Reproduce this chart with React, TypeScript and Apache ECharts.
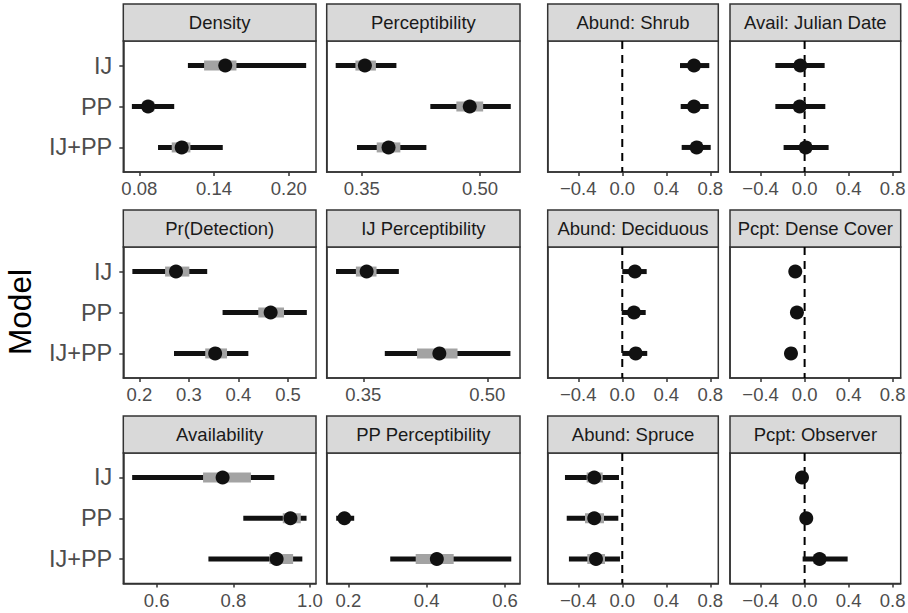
import React, { useEffect, useRef } from "react";
import * as echarts from "echarts";

// ---- data: each row is [lo95, lo50, median, hi50, hi95]; null = not estimated ----
const models = ["IJ", "PP", "IJ+PP"];

const density = [
  [0.119, 0.132, 0.149, 0.158, 0.214],
  [0.074, 0.083, 0.087, 0.092, 0.108],
  [0.095, 0.106, 0.114, 0.121, 0.147],
];
const perceptibility = [
  [0.317, 0.342, 0.354, 0.368, 0.394],
  [0.437, 0.47, 0.487, 0.504, 0.539],
  [0.344, 0.369, 0.384, 0.399, 0.432],
];
const abundShrub = [
  [0.525, 0.61, 0.652, 0.7, 0.791],
  [0.531, 0.61, 0.652, 0.7, 0.785],
  [0.54, 0.63, 0.676, 0.72, 0.804],
];
const availJulian = [
  [-0.266, -0.09, -0.039, 0.01, 0.182],
  [-0.266, -0.095, -0.045, 0.005, 0.188],
  [-0.191, -0.04, 0.009, 0.06, 0.218],
];
const prDetection = [
  [0.186, 0.252, 0.274, 0.301, 0.337],
  [0.368, 0.44, 0.465, 0.492, 0.538],
  [0.27, 0.333, 0.353, 0.377, 0.42],
];
const ijPerceptibility = [
  [0.317, 0.341, 0.354, 0.366, 0.393],
  null,
  [0.376, 0.415, 0.442, 0.464, 0.528],
];
const abundDeciduous = [
  [0.0, 0.075, 0.115, 0.155, 0.222],
  [-0.005, 0.065, 0.106, 0.145, 0.213],
  [0.0, 0.08, 0.122, 0.16, 0.227],
];
const pcptDenseCover = [
  [-0.13, -0.105, -0.085, -0.065, -0.04],
  [-0.115, -0.09, -0.07, -0.05, -0.025],
  [-0.17, -0.145, -0.124, -0.105, -0.08],
];
const availability = [
  [0.536, 0.721, 0.772, 0.846, 0.907],
  [0.826, 0.929, 0.949, 0.976, 0.991],
  [0.735, 0.894, 0.913, 0.956, 0.98],
];
const ppPerceptibility = [
  null,
  [0.169, 0.18, 0.19, 0.2, 0.215],
  [0.307, 0.372, 0.426, 0.469, 0.616],
];
const abundSpruce = [
  [-0.521, -0.324, -0.255, -0.178, -0.03],
  [-0.505, -0.339, -0.255, -0.166, -0.036],
  [-0.485, -0.318, -0.239, -0.157, -0.021],
];
const pcptObserver = [
  [-0.06, -0.04, -0.024, -0.005, 0.01],
  [-0.02, 0.0, 0.015, 0.03, 0.05],
  [-0.018, 0.08, 0.136, 0.19, 0.391],
];

// tick labels
const ticksDensity = [0.08, 0.14, 0.2];
const ticksPercept = [0.35, 0.5];
const ticksCoef = [-0.4, 0.0, 0.4, 0.8];
const ticksDetection = [0.2, 0.3, 0.4, 0.5];
const ticksAvailability = [0.6, 0.8, 1.0];
const ticksPPPercept = [0.2, 0.4, 0.6];

const panels = [
  { title: "Density", data: density, min: 0.0671, max: 0.2219, ticks: ticksDensity, dec: 2, dashed: false },
  { title: "Perceptibility", data: perceptibility, min: 0.3056, max: 0.5507, ticks: ticksPercept, dec: 2, dashed: false },
  { title: "Abund: Shrub", data: abundShrub, min: -0.678, max: 0.873, ticks: ticksCoef, dec: 1, dashed: true },
  { title: "Avail: Julian Date", data: availJulian, min: -0.678, max: 0.873, ticks: ticksCoef, dec: 1, dashed: true },
  { title: "Pr(Detection)", data: prDetection, min: 0.1677, max: 0.5565, ticks: ticksDetection, dec: 1, dashed: false },
  { title: "IJ Perceptibility", data: ijPerceptibility, min: 0.3057, max: 0.5396, ticks: ticksPercept, dec: 2, dashed: false },
  { title: "Abund: Deciduous", data: abundDeciduous, min: -0.678, max: 0.873, ticks: ticksCoef, dec: 1, dashed: true },
  { title: "Pcpt: Dense Cover", data: pcptDenseCover, min: -0.678, max: 0.873, ticks: ticksCoef, dec: 1, dashed: true },
  { title: "Availability", data: availability, min: 0.5129, max: 1.0157, ticks: ticksAvailability, dec: 1, dashed: false },
  { title: "PP Perceptibility", data: ppPerceptibility, min: 0.1448, max: 0.6383, ticks: ticksPPPercept, dec: 1, dashed: false },
  { title: "Abund: Spruce", data: abundSpruce, min: -0.678, max: 0.873, ticks: ticksCoef, dec: 1, dashed: true },
  { title: "Pcpt: Observer", data: pcptObserver, min: -0.678, max: 0.873, ticks: ticksCoef, dec: 1, dashed: true },
];

// ---- layout ----
const FONT = "Liberation Sans, Arial, Helvetica, sans-serif";
const colLeft = [123.3, 326.7, 547.7, 730];
const colWidth = [192.7, 193.3, 170.6, 170.7];
const rowTop = [41, 247, 453];
const rowHeight = [131, 131, 130.5];
const stripH = 37;
const BORDER = "#333333";

function fmt(v: number, dec: number) {
  const s = Math.abs(v).toFixed(dec);
  return v < -1e-9 ? "\u2212" + s : s;
}

function makeRender(dashed: boolean) {
  return (params: any, api: any) => {
    const y = api.value(0);
    const lo = api.coord([api.value(1), y]);
    const glo = api.coord([api.value(2), y]);
    const mid = api.coord([api.value(3), y]);
    const ghi = api.coord([api.value(4), y]);
    const hi = api.coord([api.value(5), y]);
    const children: any[] = [];
    if (dashed && params.dataIndexInside === 0) {
      const cs = params.coordSys;
      const x0 = api.coord([0, 0])[0];
      children.push({
        type: "line",
        shape: { x1: x0, y1: cs.y, x2: x0, y2: cs.y + cs.height },
        style: { stroke: "#000", lineWidth: 2, lineDash: [8, 6] },
      });
    }
    children.push({
      type: "line",
      shape: { x1: lo[0], y1: lo[1], x2: hi[0], y2: hi[1] },
      style: { stroke: "#111111", lineWidth: 5 },
    });
    children.push({
      type: "rect",
      shape: { x: glo[0], y: glo[1] - 5, width: ghi[0] - glo[0], height: 10 },
      style: { fill: "#A3A3A3" },
    });
    children.push({
      type: "circle",
      shape: { cx: mid[0], cy: mid[1], r: 7 },
      style: { fill: "#111111" },
    });
    return { type: "group", children };
  };
}

export default function App() {
  const ref = useRef<HTMLDivElement>(null);
  useEffect(() => {
    if (!ref.current) return;
    const chart = echarts.init(ref.current, null, { renderer: "svg" });
    const grids: any[] = [];
    const xAxes: any[] = [];
    const yAxes: any[] = [];
    const series: any[] = [];
    const graphics: any[] = [];

    panels.forEach((p, i) => {
      const r = Math.floor(i / 4);
      const c = i % 4;
      grids.push({
        left: colLeft[c],
        top: rowTop[r],
        width: colWidth[c],
        height: rowHeight[r],
        show: true,
        borderColor: BORDER,
        borderWidth: 1.5,
        backgroundColor: "#fff",
        containLabel: false,
        outerBoundsMode: "none",
      });
      xAxes.push({
        type: "value",
        gridIndex: i,
        min: p.min,
        max: p.max,
        axisLine: { show: true, onZero: false, lineStyle: { color: BORDER, width: 1.5 } },
        axisTick: {
          show: true,
          length: 4,
          customValues: p.ticks,
          lineStyle: { color: BORDER, width: 1.5 },
        },
        axisLabel: {
          show: true,
          customValues: p.ticks,
          formatter: (v: number) => fmt(v, p.dec),
          fontSize: 18.5,
          color: "#4D4D4D",
          fontFamily: FONT,
          margin: 7,
          hideOverlap: false,
          showMinLabel: true,
          showMaxLabel: true,
        },
        splitLine: { show: false },
      });
      yAxes.push({
        type: "value",
        gridIndex: i,
        min: -0.6,
        max: 2.6,
        inverse: true,
        axisLine: { show: true, onZero: false, lineStyle: { color: BORDER, width: 1.5 } },
        axisTick: {
          show: c === 0,
          length: 4,
          customValues: [0, 1, 2],
          lineStyle: { color: BORDER, width: 1.5 },
        },
        axisLabel: {
          show: c === 0,
          customValues: [0, 1, 2],
          formatter: (v: number) => models[Math.round(v)] ?? "",
          fontSize: 23.5,
          color: "#4D4D4D",
          fontFamily: FONT,
          margin: 11,
        },
        splitLine: { show: false },
      });
      const rows: any[] = [];
      p.data.forEach((d: any, k: number) => {
        if (d) rows.push([k, ...d]);
      });
      series.push({
        type: "custom",
        xAxisIndex: i,
        yAxisIndex: i,
        renderItem: makeRender(p.dashed),
        encode: { x: [1, 2, 3, 4, 5], y: 0 },
        data: rows,
        silent: true,
        clip: false,
      });
      graphics.push({
        type: "rect",
        shape: { x: colLeft[c], y: rowTop[r] - stripH, width: colWidth[c], height: stripH },
        style: { fill: "#D9D9D9", stroke: BORDER, lineWidth: 1.5 },
        silent: true,
      });
      graphics.push({
        type: "text",
        x: colLeft[c] + colWidth[c] / 2,
        y: rowTop[r] - stripH / 2,
        style: {
          text: p.title,
          fontSize: 18.5,
          fontFamily: FONT,
          fill: "#1A1A1A",
          align: "center",
          verticalAlign: "middle",
        },
        silent: true,
      });
    });

    graphics.push({
      type: "text",
      x: 20,
      y: 312,
      rotation: Math.PI / 2,
      style: {
        text: "Model",
        fontSize: 31.5,
        fontFamily: FONT,
        fill: "#000",
        align: "center",
        verticalAlign: "middle",
      },
      silent: true,
    });

    chart.setOption({
      animation: false,
      backgroundColor: "#ffffff",
      grid: grids,
      xAxis: xAxes,
      yAxis: yAxes,
      series,
      graphic: graphics,
    });
    return () => chart.dispose();
  }, []);

  return (
    <div
      ref={ref}
      style={{ position: "absolute", left: 0, top: 0, width: 908, height: 613 }}
    />
  );
}
